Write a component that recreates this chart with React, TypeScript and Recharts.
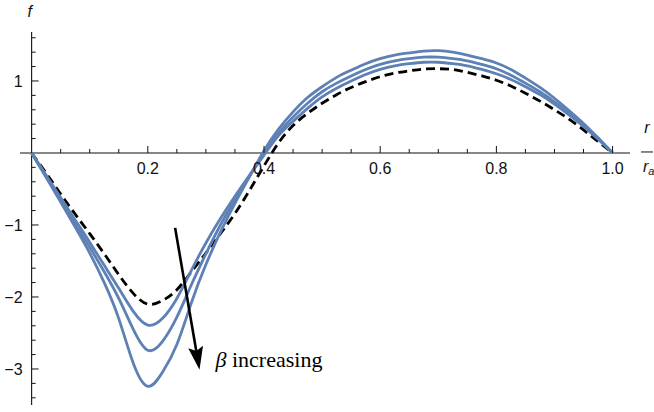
import React from 'react'
import { LineChart, Line, XAxis, YAxis, ReferenceLine, ReferenceDot } from 'recharts'

// r / r_a sample points
const xs = [
  0, 0.025, 0.05, 0.075, 0.1, 0.125, 0.15, 0.175, 0.2, 0.225, 0.25, 0.275, 0.3, 0.325, 0.35, 0.375, 0.4,
  0.425, 0.45, 0.475, 0.5, 0.525, 0.55, 0.575, 0.6, 0.625, 0.65, 0.675, 0.7, 0.725, 0.75, 0.775, 0.8,
  0.825, 0.85, 0.875, 0.9, 0.925, 0.95, 0.975, 1,
]

// reference curve (dashed)
const dashed = [
  0, -0.28, -0.57, -0.85, -1.12, -1.4, -1.69, -1.95, -2.1, -2.05, -1.9, -1.65, -1.39, -1.12, -0.84, -0.52, -0.18,
  0.14, 0.38, 0.55, 0.69, 0.81, 0.91, 0.99, 1.06, 1.11, 1.14, 1.165, 1.17, 1.16, 1.12, 1.07, 1.01,
  0.93, 0.83, 0.72, 0.6, 0.47, 0.32, 0.16, 0,
]

// blue curves, beta increasing
const beta1 = [
  0, -0.31, -0.62, -0.93, -1.24, -1.56, -1.88, -2.2, -2.39, -2.3, -2.02, -1.63, -1.25, -0.91, -0.6, -0.31, -0.03,
  0.24, 0.44, 0.62, 0.78, 0.9, 1.0, 1.09, 1.16, 1.21, 1.24, 1.26, 1.26, 1.24, 1.21, 1.16, 1.1,
  1.02, 0.92, 0.81, 0.68, 0.53, 0.37, 0.19, 0,
]
const beta2 = [
  0, -0.32, -0.65, -0.98, -1.31, -1.65, -2.02, -2.45, -2.74, -2.62, -2.28, -1.83, -1.4, -1.0, -0.65, -0.32, 0,
  0.28, 0.5, 0.69, 0.85, 0.97, 1.07, 1.16, 1.23, 1.28, 1.31, 1.33, 1.33, 1.31, 1.28, 1.23, 1.17,
  1.08, 0.97, 0.85, 0.71, 0.56, 0.39, 0.2, 0,
]
const beta3 = [
  0, -0.34, -0.68, -1.03, -1.39, -1.8, -2.3, -2.92, -3.24, -3.05, -2.66, -2.08, -1.55, -1.1, -0.7, -0.33, 0.03,
  0.33, 0.57, 0.77, 0.92, 1.05, 1.15, 1.24, 1.31, 1.36, 1.39, 1.415, 1.42, 1.4, 1.36, 1.31, 1.25,
  1.16, 1.04, 0.91, 0.76, 0.59, 0.41, 0.21, 0,
]

const xMajor = [0.2, 0.4, 0.6, 0.8, 1.0]
const xMajorLabels = ['0.2', '0.4', '0.6', '0.8', '1.0']
const xMinor = [0.05, 0.1, 0.15, 0.25, 0.3, 0.35, 0.45, 0.5, 0.55, 0.65, 0.7, 0.75, 0.85, 0.9, 0.95]
const yMajor = [1, -1, -2, -3]
const yMajorLabels = ['1', '\u22121', '\u22122', '\u22123']
const yMinor = [
  1.6, 1.4, 1.2, 0.8, 0.6, 0.4, 0.2, -0.2, -0.4, -0.6, -0.8, -1.2, -1.4, -1.6, -1.8,
  -2.2, -2.4, -2.6, -2.8, -3.2, -3.4,
]

const data = xs.map((x, i) => ({ x, d: dashed[i], b1: beta1[i], b2: beta2[i], b3: beta3[i] }))

const BLUE = '#5e81b5'
const INK = '#111'
const SANS = '"Liberation Sans", Arial, sans-serif'
const SERIF = '"Liberation Serif", "Times New Roman", serif'
const X_DOMAIN: [number, number] = [-0.02, 1.03]
const Y_DOMAIN: [number, number] = [-3.5, 1.68]

const xTick = (label?: string) => (p: any) => (
  <g>
    <line x1={p.cx} y1={p.cy} x2={p.cx} y2={p.cy - (label ? 7 : 4)} stroke={INK} strokeWidth={1} />
    {label && (
      <text x={p.cx} y={p.cy + 21} textAnchor="middle" fontSize={16} fontFamily={SANS} fill={INK}>
        {label}
      </text>
    )}
  </g>
)

const yTick = (label?: string) => (p: any) => (
  <g>
    <line x1={p.cx} y1={p.cy} x2={p.cx + (label ? 7 : 4)} y2={p.cy} stroke={INK} strokeWidth={1} />
    {label && (
      <text x={p.cx - 9} y={p.cy + 6} textAnchor="end" fontSize={16} fontFamily={SANS} fill={INK}>
        {label}
      </text>
    )}
  </g>
)

const fLabel = (p: any) => (
  <text x={p.cx - 2} y={p.cy - 15} textAnchor="middle" fontSize={16} fontStyle="italic" fontFamily={SANS} fill={INK}>
    f
  </text>
)

const rLabel = (p: any) => (
  <g fontFamily={SANS} fill={INK} fontStyle="italic">
    <text x={p.cx + 17} y={p.cy - 20} textAnchor="middle" fontSize={16}>r</text>
    <line x1={p.cx + 11} y1={p.cy - 1} x2={p.cx + 23} y2={p.cy - 1} stroke={INK} strokeWidth={1} />
    <text x={p.cx + 13} y={p.cy + 19} fontSize={16}>
      r<tspan fontSize={11} dy={3}>a</tspan>
    </text>
  </g>
)

const Arrow = (p: any) => {
  const { x1, y1, x2, y2 } = p
  const dx = x2 - x1
  const dy = y2 - y1
  const len = Math.hypot(dx, dy) || 1
  const ux = dx / len
  const uy = dy / len
  const head = 23
  const half = 7.5
  const bx = x2 - ux * head
  const by = y2 - uy * head
  const nx = x2 - ux * (head - 4)
  const ny = y2 - uy * (head - 4)
  return (
    <g>
      <line x1={x1} y1={y1} x2={nx} y2={ny} stroke="#000" strokeWidth={2.6} />
      <polygon
        points={`${x2},${y2} ${bx - uy * half},${by + ux * half} ${nx},${ny} ${bx + uy * half},${by - ux * half}`}
        fill="#000"
      />
      <text x={x2 + 16} y={y2 - 3} fontSize={22} fontFamily={SERIF} fill="#000">
        <tspan fontStyle="italic">β</tspan> increasing
      </text>
    </g>
  )
}

export default function App() {
  return (
    <div style={{ position: 'absolute', left: 0, top: 0, background: '#fff' }}>
      <LineChart width={654} height={412} data={data} margin={{ top: 32, right: 24, bottom: 7, left: 20 }}>
        <XAxis dataKey="x" type="number" domain={X_DOMAIN} allowDataOverflow hide />
        <YAxis type="number" domain={Y_DOMAIN} allowDataOverflow hide />

        <ReferenceLine y={0} stroke={INK} strokeWidth={1.1} />
        <ReferenceLine x={0} stroke={INK} strokeWidth={1.1} />
        {xMinor.map((v) => (
          <ReferenceDot key={'xm' + v} x={v} y={0} r={1} shape={xTick()} />
        ))}
        {xMajor.map((v, i) => (
          <ReferenceDot key={'xM' + v} x={v} y={0} r={1} shape={xTick(xMajorLabels[i])} />
        ))}
        {yMinor.map((v) => (
          <ReferenceDot key={'ym' + v} x={0} y={v} r={1} shape={yTick()} />
        ))}
        {yMajor.map((v, i) => (
          <ReferenceDot key={'yM' + v} x={0} y={v} r={1} shape={yTick(yMajorLabels[i])} />
        ))}
        <ReferenceDot x={0} y={Y_DOMAIN[1]} r={1} ifOverflow="visible" shape={fLabel} />
        <ReferenceDot x={X_DOMAIN[1]} y={0} r={1} ifOverflow="visible" shape={rLabel} />

        <Line dataKey="d" type="natural" stroke="#000" strokeWidth={2.8} strokeDasharray="9 5" dot={false} isAnimationActive={false} />
        <Line dataKey="b1" type="natural" stroke={BLUE} strokeWidth={2.8} dot={false} isAnimationActive={false} />
        <Line dataKey="b2" type="natural" stroke={BLUE} strokeWidth={2.8} dot={false} isAnimationActive={false} />
        <Line dataKey="b3" type="natural" stroke={BLUE} strokeWidth={2.8} dot={false} isAnimationActive={false} />

        <ReferenceLine
          segment={[{ x: 0.247, y: -1.04 }, { x: 0.289, y: -3.01 }]}
          ifOverflow="visible"
          shape={Arrow}
        />
      </LineChart>
    </div>
  )
}
